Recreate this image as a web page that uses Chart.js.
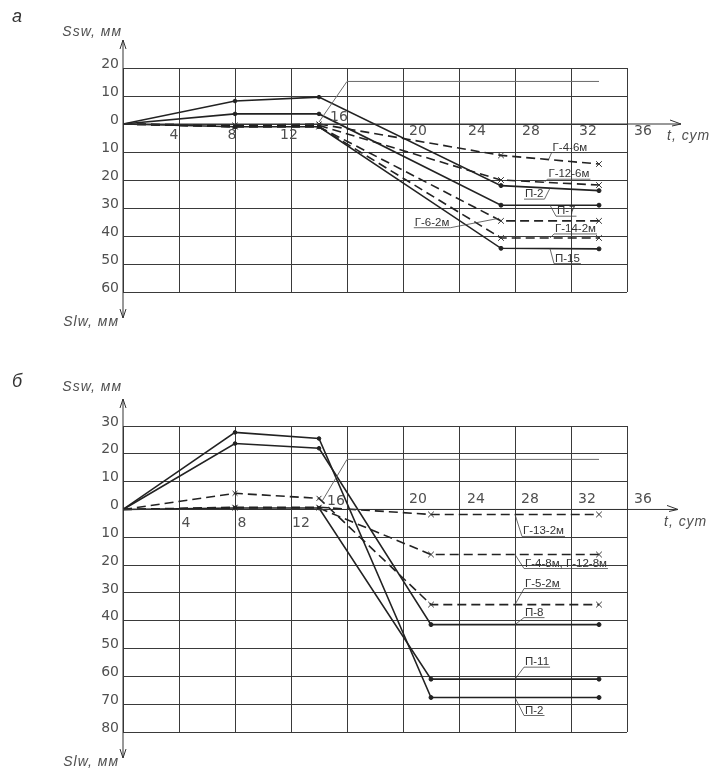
<!DOCTYPE html>
<html>
<head>
<meta charset="utf-8">
<title>Осадки</title>
<script src="https://cdn.jsdelivr.net/npm/chart.js"></script>
<style>
  body { margin: 0; background: #fff; width: 714px; height: 768px; position: relative; overflow: hidden; }
  canvas { position: absolute; left: 0; }
  #chartA { top: 0; }
  #chartB { top: 370px; }
</style>
</head>
<body>
<canvas id="chartA" width="714" height="370"></canvas>
<canvas id="chartB" width="714" height="398"></canvas>
<script>
// ---- панель а ----
const daysA = [0, 8, 14, 27, 34];
const p2A = [0, 8.2, 9.6, -22, -23.8];
const p7A = [0, 3.6, 3.6, -29, -29];
const p15A = [0, -1, -1, -44.4, -44.6];
const g46A = [0, -0.5, 0, -11.2, -14.3];
const g126A = [0, -0.5, -0.5, -20, -21.8];
const g62A = [0, -1, -1, -34.6, -34.6];
const g142A = [0, -1, -1, -40.7, -40.7];
const markDaysA = [14, 16, 34];
const markA = [0.7, 15.2, 15.2];
const yTicksA = [20, 10, 0, -10, -20, -30, -40, -50, -60];

// ---- панель б ----
const daysB = [0, 8, 14, 22, 34];
const p8B = [0, 23.7, 22, -41.4, -41.4];
const p11B = [0, 0.5, 0.5, -61, -61];
const p2B = [0, 27.7, 25.5, -67.6, -67.6];
const g48B = [0, 0.5, 0.5, -16.2, -16.2];
const g52B = [0, 5.8, 4, -34.2, -34.2];
const g132B = [0, 0.8, 0.8, -1.8, -1.8];
const markDaysB = [14.2, 16, 34];
const markB = [2.8, 18, 18];
const yTicksB = [30, 20, 10, 0, -10, -20, -30, -40, -50, -60, -70, -80];

const xTicks = [4, 8, 12, 16, 20, 24, 28, 32, 36];

const INK = "#222";
const GRID = "#3a3a3a";
const TXT = "#505050";

function pts(xs, ys) {
  return xs.map((x, i) => ({ x: x, y: ys[i] }));
}
function solid(label, xs, ys) {
  return {
    label: label, data: pts(xs, ys),
    borderColor: INK, borderWidth: 1.6, tension: 0,
    pointStyle: "circle", pointRadius: [0, 1.8, 1.8, 2, 2],
    pointBackgroundColor: INK, pointBorderColor: INK, pointBorderWidth: 1
  };
}
function dashed(label, xs, ys) {
  return {
    label: label, data: pts(xs, ys),
    borderColor: INK, borderWidth: 1.6, borderDash: [9, 5], tension: 0,
    pointStyle: "crossRot", pointRadius: [0, 3.5, 3.5, 4, 4],
    pointBorderColor: "#333", pointBorderWidth: 1
  };
}
function thin(label, xs, ys) {
  return {
    label: label, data: pts(xs, ys),
    borderColor: "#6a6a6a", borderWidth: 1, pointRadius: 0, tension: 0
  };
}

function line(ctx, x1, y1, x2, y2) {
  ctx.beginPath();
  ctx.moveTo(x1, y1);
  ctx.lineTo(x2, y2);
  ctx.stroke();
}

function valueAt(ds, t) {
  const d = ds.data;
  for (let i = 1; i < d.length; i++) {
    if (t <= d[i].x) {
      const k = (t - d[i - 1].x) / (d[i].x - d[i - 1].x);
      return d[i - 1].y + k * (d[i].y - d[i - 1].y);
    }
  }
  return d[d.length - 1].y;
}

// оси со стрелками, подписи делений, выноски
const decor = {
  id: "decor",
  afterDraw(chart, args, o) {
    const ctx = chart.ctx;
    const sx = chart.scales.x, sy = chart.scales.y;
    const x0 = sx.getPixelForValue(0), y0 = sy.getPixelForValue(0);
    ctx.save();
    ctx.strokeStyle = "#333";
    ctx.lineWidth = 1;
    // ось Y
    line(ctx, x0, o.yTop, x0, o.yBottom);
    line(ctx, x0, o.yTop, x0 - 3, o.yTop + 9);
    line(ctx, x0, o.yTop, x0 + 3, o.yTop + 9);
    line(ctx, x0, o.yBottom, x0 - 3, o.yBottom - 9);
    line(ctx, x0, o.yBottom, x0 + 3, o.yBottom - 9);
    // ось t
    line(ctx, x0, y0, o.xArrow, y0);
    line(ctx, o.xArrow, y0, o.xArrow - 11, y0 - 4);
    line(ctx, o.xArrow, y0, o.xArrow - 9, y0 + 2);

    ctx.fillStyle = TXT;
    ctx.font = '14px "DejaVu Sans", sans-serif';
    ctx.textBaseline = "middle";
    ctx.textAlign = "right";
    o.yTicks.forEach(v => {
      ctx.fillText(String(Math.abs(v)), x0 - 4, sy.getPixelForValue(v) - 4);
    });
    ctx.textAlign = "center";
    xTicks.forEach((t, i) => {
      ctx.fillText(String(t), sx.getPixelForValue(t) + o.xdx[i], y0 + o.xdy[i]);
    });

    ctx.font = 'italic 14px "Liberation Sans", Arial, sans-serif';
    ctx.letterSpacing = "1px";
    ctx.textAlign = "right";
    ctx.fillText("Ssw, мм", x0 - 1, o.titleTop);
    ctx.fillText("Slw, мм", x0 - 4, o.titleBottom);
    ctx.textAlign = "left";
    ctx.fillText("t, сут", o.xArrow - 14, o.tTitle);
    ctx.letterSpacing = "0px";
    ctx.font = 'italic 18px "Liberation Sans", Arial, sans-serif';
    ctx.fillStyle = "#333";
    ctx.fillText(o.letter, 12, o.letterY);

    // выноски
    ctx.font = '11.5px "Liberation Sans", Arial, sans-serif';
    ctx.textBaseline = "alphabetic";
    ctx.fillStyle = "#333";
    ctx.strokeStyle = "#444";
    ctx.lineWidth = 0.8;
    o.notes.forEach(n => {
      const ds = chart.data.datasets.find(d => d.label === n.series);
      const ax = sx.getPixelForValue(n.t);
      const ay = sy.getPixelForValue(valueAt(ds, n.t));
      const w = ctx.measureText(n.text).width;
      const tx = ax + n.dx, by = ay + n.dy;
      ctx.fillText(n.text, tx, by);
      line(ctx, tx - 1, by + 2, tx + w + 1, by + 2);
      const lx = n.side === "R" ? tx + w + 1 : tx - 1;
      line(ctx, lx, by + 2, ax, ay);
    });
    ctx.restore();
  }
};

function makeChart(id, datasets, yMin, yMax, pad, deco) {
  return new Chart(document.getElementById(id), {
    type: "line",
    data: { datasets: datasets },
    options: {
      responsive: false,
      animation: false,
      layout: { padding: pad, autoPadding: false },
      scales: {
        x: {
          type: "linear", min: 0, max: 36,
          afterFit: s => { s.height = 0; },
          ticks: { display: false, stepSize: 4 },
          grid: { color: GRID, lineWidth: 1, drawTicks: false },
          border: { display: false }
        },
        y: {
          type: "linear", min: yMin, max: yMax,
          afterFit: s => { s.width = 0; },
          ticks: { display: false, stepSize: 10 },
          grid: { color: GRID, lineWidth: 1, drawTicks: false },
          border: { display: false }
        }
      },
      plugins: {
        legend: { display: false },
        tooltip: { enabled: false },
        decor: deco
      }
    },
    plugins: [decor]
  });
}

makeChart("chartA", [
  thin("16", markDaysA, markA),
  solid("П-2", daysA, p2A),
  solid("П-7", daysA, p7A),
  solid("П-15", daysA, p15A),
  dashed("Г-4-6м", daysA, g46A),
  dashed("Г-12-6м", daysA, g126A),
  dashed("Г-6-2м", daysA, g62A),
  dashed("Г-14-2м", daysA, g142A)
], -60, 20, { left: 123, right: 87, top: 68, bottom: 78 }, {
  letter: "а", letterY: 17,
  yTop: 40, yBottom: 318, xArrow: 681,
  titleTop: 32, titleBottom: 322, tTitle: 136,
  yTicks: yTicksA,
  xdx: [-5, -3, -2, -8, 15, 18, 16, 17, 16],
  xdy: [11, 11, 11, -7, 7, 7, 7, 7, 7],
  notes: [
    { series: "Г-4-6м", text: "Г-4-6м", t: 30.4, dx: 4, dy: -9, side: "L" },
    { series: "Г-12-6м", text: "Г-12-6м", t: 30.1, dx: 4, dy: -5, side: "L" },
    { series: "П-2", text: "П-2", t: 30.5, dx: -25, dy: 9, side: "R" },
    { series: "П-7", text: "П-7", t: 30.5, dx: 7, dy: 9, side: "L" },
    { series: "Г-6-2м", text: "Г-6-2м", t: 26.7, dx: -82, dy: 7, side: "R" },
    { series: "Г-14-2м", text: "Г-14-2м", t: 30.5, dx: 5, dy: -6, side: "L" },
    { series: "П-15", text: "П-15", t: 30.5, dx: 5, dy: 13, side: "L" }
  ]
});

makeChart("chartB", [
  thin("16", markDaysB, markB),
  solid("П-8", daysB, p8B),
  solid("П-11", daysB, p11B),
  solid("П-2", daysB, p2B),
  dashed("Г-4-8м, Г-12-8м", daysB, g48B),
  dashed("Г-5-2м", daysB, g52B),
  dashed("Г-13-2м", daysB, g132B)
], -80, 30, { left: 123, right: 87, top: 56, bottom: 36 }, {
  letter: "б", letterY: 12,
  yTop: 29, yBottom: 388, xArrow: 678,
  titleTop: 17, titleBottom: 392, tTitle: 152,
  yTicks: yTicksB,
  xdx: [7, 7, 10, -11, 15, 17, 15, 16, 16],
  xdy: [14, 14, 14, -8, -10, -10, -10, -10, -10],
  notes: [
    { series: "Г-13-2м", text: "Г-13-2м", t: 28, dx: 8, dy: 20, side: "L" },
    { series: "Г-4-8м, Г-12-8м", text: "Г-4-8м, Г-12-8м", t: 28, dx: 10, dy: 12, side: "L" },
    { series: "Г-5-2м", text: "Г-5-2м", t: 28, dx: 10, dy: -18, side: "L" },
    { series: "П-8", text: "П-8", t: 28, dx: 10, dy: -9, side: "L" },
    { series: "П-11", text: "П-11", t: 28, dx: 10, dy: -14, side: "L" },
    { series: "П-2", text: "П-2", t: 28, dx: 10, dy: 16, side: "L" }
  ]
});
</script>
</body>
</html>
